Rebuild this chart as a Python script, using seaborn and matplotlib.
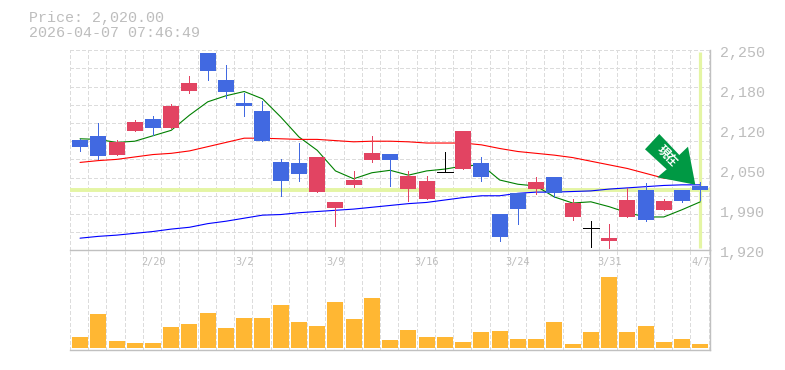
import numpy as np
import pandas as pd
import matplotlib
matplotlib.use('Agg')
import matplotlib.pyplot as plt
from matplotlib.patches import Polygon
import seaborn as sns

# ==================== data ====================
OPEN = [2102, 2109, 2077, 2117, 2137, 2122, 2183, 2246, 2201, 2163, 2150, 2066, 2064, 2016, 1990, 2028, 2069, 2079,
        2021, 2005, 2050, 2054, 2064, 1980, 2015, 2021, 2041, 1975, 1957, 1935, 1975, 2020, 1986, 2020, 2026]
CLOSE = [2090, 2076, 2099, 2132, 2122, 2158, 2196, 2216, 2181, 2158, 2100, 2034, 2046, 2074, 1999, 2036, 2081, 2069,
         2043, 2034, 2050, 2117, 2041, 1942, 1988, 2033, 2015, 1998, 1957, 1940, 2003, 1970, 2001, 2001, 2020]
HIGH = [2104, 2130, 2102, 2135, 2142, 2161, 2208, 2246, 2226, 2180, 2166, 2071, 2097, 2074, 1999, 2051, 2109, 2079,
        2051, 2043, 2082, 2117, 2074, 1980, 2015, 2041, 2041, 2005, 1968, 1963, 2023, 2031, 2005, 2020, 2033]
LOW = [2084, 2071, 2077, 2117, 2110, 2122, 2180, 2201, 2171, 2142, 2100, 2010, 2034, 2016, 1960, 2024, 2066, 2026,
       2001, 2005, 2050, 2054, 2034, 1935, 1963, 2013, 2008, 1970, 1925, 1924, 1975, 1968, 1986, 2000, 2003]
VOLUME = [11, 34, 7, 5, 5, 21, 24, 35, 20, 30, 30, 43, 26, 22, 46, 29, 50, 8,
          18, 11, 11, 6, 16, 17, 9, 9, 26, 4, 16, 71, 16, 22, 6, 9, 4]
MA_SHORT = [2104, 2103, 2098, 2100, 2109, 2118, 2143, 2165, 2175, 2182, 2170, 2140, 2107, 2085, 2051, 2038, 2048, 2052,
            2044, 2051, 2054, 2059, 2061, 2036, 2029, 2026, 2008, 1998, 2000, 1992, 1982, 1975, 1975, 1987, 2000]
MA_MID = [2065, 2068, 2070, 2074, 2078, 2080, 2084, 2091, 2098, 2105, 2105, 2104, 2103, 2103, 2101, 2099, 2100, 2100,
          2099, 2097, 2097, 2097, 2094, 2088, 2083, 2080, 2077, 2073, 2067, 2061, 2055, 2047, 2039, 2036, np.nan]
MA_LONG = [1940, 1943, 1945, 1948, 1951, 1955, 1958, 1964, 1968, 1973, 1978, 1979, 1982, 1984, 1986, 1988, 1991, 1994,
           1997, 1999, 2003, 2007, 2010, 2010, 2014, 2016, 2016, 2017, 2018, 2021, 2023, 2025, 2027, 2028, 2028]
PRICE_TICKS = [1920, 1986, 2052, 2118, 2184, 2250]
PRICE_LABELS = ['1,920', '1,990', '2,050', '2,120', '2,180', '2,250']
DATE_POS = [4, 9, 14, 19, 24, 29, 34]
DATE_LABELS = ['2/20', '3/2', '3/9', '3/16', '3/24', '3/31', '4/7']
LAST_PRICE = 2020

W, H = 785, 370
RED = '#e24462'
BLUE = '#4169e1'
ORANGE = '#ffb733'
GRID = '#dcdcdc'
FRAME = '#c0c0c0'
TEXT = '#bdbdbd'
LIME = '#e4f5a4'
ARROW = '#009944'
DASH = (0, (5, 4))
THIN = 0.5
MA_LW = 0.8


def fx(px):
    return px / W


def fy(py):
    return 1 - py / H


sns.set_style('white')
plt.rcParams['font.family'] = ['Liberation Mono', 'DejaVu Sans']

fig = plt.figure(figsize=(W / 100, H / 100), dpi=100, facecolor='white')
ax = fig.add_axes([fx(70), fy(250.3), 640 / W, 200 / H])
ax_vol = fig.add_axes([fx(70), fy(350.3), 640 / W, 100 / H], facecolor='none')

n = len(OPEN)
idx = np.arange(n)
df = pd.DataFrame({'i': idx, 'o': OPEN, 'c': CLOSE, 'h': HIGH, 'l': LOW, 'v': VOLUME,
                   'ma_s': MA_SHORT, 'ma_m': MA_MID, 'ma_l': MA_LONG})

x_min, x_max = -0.55, 34.53

# grid shared by both panes
grid_x = np.r_[x_min, idx[:-1] + 0.45, 34.45]
for a in (ax, ax_vol):
    a.set_xlim(x_min, x_max)
    a.vlines(grid_x, 0, 1, transform=a.get_xaxis_transform(), color=GRID, lw=THIN,
             linestyles=DASH, zorder=0, antialiased=False)
    for side in ('top', 'left'):
        a.spines[side].set_visible(False)
    for side in ('bottom', 'right'):
        a.spines[side].set_color(FRAME)
        a.spines[side].set_linewidth(1.0)

# price pane
ax.set_ylim(1920, 2250)
ax.hlines(np.arange(1950, 2251, 30), x_min, x_max, color=GRID, lw=THIN, linestyles=DASH, zorder=0,
          clip_on=False, antialiased=False)
ax.axhline(LAST_PRICE, color=LIME, lw=2.8, zorder=1)
ax.vlines(n - 1, 1923, 2248, color=LIME, lw=2.3, zorder=1)

sns.lineplot(data=df, x='i', y='ma_s', color='green', lw=MA_LW, errorbar=None, ax=ax, zorder=2)
sns.lineplot(data=df, x='i', y='ma_m', color='red', lw=MA_LW, errorbar=None, ax=ax, zorder=2)
sns.lineplot(data=df, x='i', y='ma_l', color='blue', lw=MA_LW, errorbar=None, ax=ax, zorder=2)

colors = [RED if c > o else BLUE if c < o else 'black' for o, c in zip(OPEN, CLOSE)]
ax.vlines(idx, LOW, HIGH, colors=colors, lw=THIN, zorder=3, antialiased=False)
for i, o, c, col in zip(idx, OPEN, CLOSE, colors):
    if o == c:
        ax.hlines(o, i - 0.44, i + 0.44, color='black', lw=THIN, zorder=3, antialiased=False)
    else:
        ax.bar(i, abs(c - o), bottom=min(o, c), width=0.877, color=col, lw=0, zorder=3)
ax.set_xlim(x_min, x_max)
ax.set_xlabel('')
ax.set_ylabel('')
ax.set_xticks([])
ax.set_yticks([])

for tick, label in zip(PRICE_TICKS, PRICE_LABELS):
    ax.annotate(label, xy=(1, tick), xycoords=('axes fraction', 'data'), xytext=(10, -3),
                textcoords='offset pixels', color=TEXT, fontsize=10.8, va='center', ha='left')

# volume pane
sns.barplot(data=df, x='i', y='v', native_scale=True, width=0.877, color=ORANGE, saturation=1,
            lw=0, errorbar=None, ax=ax_vol, zorder=2)
ax_vol.set_xlim(x_min, x_max)
ax_vol.set_ylim(-2.3, 97.7)
ax_vol.set_xlabel('')
ax_vol.set_ylabel('')
ax_vol.set_xticks([])
ax_vol.set_yticks([])
for pos, label in zip(DATE_POS, DATE_LABELS):
    ax_vol.text(pos, 0.885, label, transform=ax_vol.get_xaxis_transform(), color=TEXT,
                fontsize=7.4, ha='center', va='center', zorder=3, family=['DejaVu Sans Mono'])

# header
fig.text(fx(29), fy(18), 'Price: 2,020.00', color=TEXT, fontsize=10.8, va='center', ha='left')
fig.text(fx(29), fy(33), '2026-04-07 07:46:49', color=TEXT, fontsize=10.8, va='center', ha='left')

# arrow marker pointing at the last candle
arrow_px = [(659.3, 134), (645, 149.3), (666.7, 169.3), (657.3, 177.3), (695.3, 184.7), (688, 146.7), (679.3, 155)]
fig.add_artist(Polygon([(fx(x), fy(y)) for x, y in arrow_px], closed=True, transform=fig.transFigure,
                       facecolor=ARROW, edgecolor='none', zorder=5))
fig.text(fx(667), fy(156), '現在', color='white', fontsize=8.5, fontweight='bold', rotation=-45,
         rotation_mode='anchor', ha='center', va='center', family=['Noto Sans CJK JP', 'DejaVu Sans'], zorder=6)

fig.savefig('out.png', dpi=100)
